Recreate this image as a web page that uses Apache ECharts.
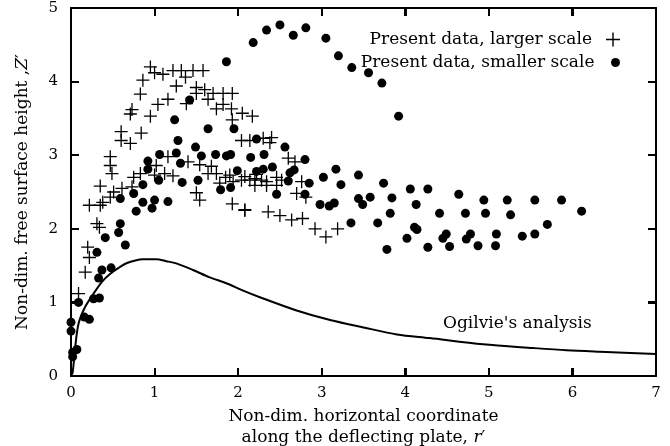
<!DOCTYPE html>
<html>
<head>
<meta charset="utf-8">
<script src="https://cdn.jsdelivr.net/npm/echarts@6/dist/echarts.min.js"></script>
<style>html,body{margin:0;padding:0;background:#fff}#c{width:670px;height:446px}#err{position:absolute;left:2px;top:2px;font:10px sans-serif;color:#c00;max-width:660px}</style>
</head>
<body>
<div id="c"></div>
<div id="err"></div>
<script>
window.onerror = function (m) { document.getElementById('err').textContent += ' ' + m; };
// ---- data ----
const xTicks = [0, 1, 2, 3, 4, 5, 6, 7];
const yTicks = [0, 1, 2, 3, 4, 5];
const seriesNames = ['Present data, larger scale', 'Present data, smaller scale'];
const curveLabel = "Ogilvie's analysis";

const largerScale = [
[0.95,4.20],[1.00,4.12],[1.10,4.10],[1.22,4.15],[1.32,4.15],[1.46,4.15],[1.58,4.15],[0.86,4.02],[1.37,4.06],[1.26,3.94],
[1.50,3.92],[1.60,3.89],[0.83,3.83],[1.50,3.84],[1.70,3.84],[1.82,3.84],[1.93,3.84],[1.16,3.76],[1.64,3.76],[1.04,3.69],
[1.82,3.69],[1.38,3.70],[0.73,3.62],[0.71,3.56],[1.74,3.63],[1.92,3.63],[2.05,3.57],[2.17,3.53],[0.95,3.53],[1.93,3.48],
[0.60,3.32],[0.84,3.30],[0.60,3.20],[0.71,3.16],[2.04,3.20],[2.14,3.20],[0.47,2.98],[1.16,2.98],[0.47,2.86],[0.49,2.75],
[1.40,2.91],[1.54,2.87],[1.68,2.85],[1.02,2.86],[0.75,2.70],[0.83,2.75],[1.00,2.73],[1.12,2.75],[1.22,2.72],[1.64,2.75],
[1.74,2.75],[1.85,2.70],[1.94,2.64],[2.04,2.66],[2.14,2.66],[2.20,2.68],[0.35,2.58],[0.51,2.50],[0.61,2.55],[0.73,2.57],
[0.47,2.43],[0.22,2.32],[0.35,2.32],[0.38,2.36],[0.31,2.07],[0.34,2.02],[0.20,1.75],[0.22,1.61],[0.17,1.41],[0.09,1.12],
[1.50,2.49],[1.54,2.39],[1.93,2.34],[2.08,2.25],[1.78,2.62],[2.30,3.23],[2.40,3.24],[2.38,3.17],[2.60,2.96],[2.68,2.91],
[1.90,2.73],[2.08,2.71],[2.22,2.74],[2.28,2.66],[2.34,2.64],[2.46,2.70],[2.52,2.66],[2.76,2.64],[2.70,2.48],[2.20,2.59],
[2.34,2.59],[2.46,2.59],[2.81,2.43],[2.08,2.26],[2.36,2.23],[2.50,2.18],[2.64,2.12],[2.77,2.14],[2.92,2.00],[3.05,1.89],
[3.19,2.00]
];

const smallerScale = [
[0.00,0.61],[0.00,0.73],[0.02,0.26],[0.02,0.32],[0.07,0.36],[0.09,1.00],[0.16,0.80],[0.22,0.77],[0.27,1.05],[0.34,1.06],
[0.33,1.33],[0.37,1.44],[0.48,1.47],[0.31,1.68],[0.41,1.88],[0.57,1.95],[0.59,2.07],[0.65,1.78],[0.59,2.41],[0.75,2.48],
[0.78,2.24],[0.86,2.36],[0.97,2.28],[1.00,2.39],[1.16,2.37],[0.86,2.60],[1.05,2.66],[1.33,2.63],[1.52,2.66],[1.79,2.53],
[1.91,2.56],[0.92,2.81],[0.92,2.92],[1.06,3.01],[1.26,3.03],[1.31,2.89],[1.56,2.99],[1.73,3.01],[1.86,2.99],[1.91,3.01],
[2.15,2.97],[1.99,2.79],[2.22,2.78],[1.49,3.11],[1.28,3.20],[2.22,3.22],[1.24,3.48],[1.64,3.36],[1.95,3.36],[1.42,3.75],
[1.86,4.27],[2.18,4.53],[2.34,4.70],[2.50,4.77],[2.66,4.63],[2.81,4.73],[3.05,4.59],[3.20,4.35],[3.36,4.19],[3.56,4.12],
[3.72,3.98],[3.92,3.53],[2.56,3.11],[2.31,3.01],[2.80,2.94],[2.30,2.81],[2.41,2.84],[2.62,2.76],[2.67,2.80],[2.60,2.65],
[2.85,2.62],[3.02,2.70],[3.17,2.81],[3.23,2.60],[3.44,2.73],[3.74,2.62],[4.06,2.54],[4.27,2.54],[4.64,2.47],[4.94,2.39],
[5.22,2.39],[5.55,2.39],[5.87,2.39],[6.11,2.24],[2.46,2.47],[2.80,2.47],[2.98,2.33],[3.09,2.31],[3.15,2.35],[3.44,2.41],
[3.49,2.33],[3.58,2.43],[3.84,2.42],[4.13,2.33],[4.41,2.21],[4.72,2.21],[4.96,2.21],[5.26,2.19],[5.70,2.06],[3.35,2.08],
[3.67,2.08],[3.82,2.21],[4.11,2.02],[4.14,1.99],[4.02,1.87],[3.78,1.72],[4.27,1.75],[4.49,1.93],[4.45,1.87],[4.53,1.76],
[4.78,1.93],[4.73,1.86],[4.87,1.77],[5.09,1.93],[5.08,1.77],[5.40,1.90],[5.55,1.93]
];

const ogilvieCurve = [
[0.00,0.00],[0.02,0.05],[0.05,0.39],[0.09,0.71],[0.17,0.94],[0.27,1.12],[0.37,1.28],[0.47,1.39],[0.57,1.47],[0.67,1.535],
[0.77,1.57],[0.86,1.585],[1.02,1.585],[1.14,1.56],[1.26,1.53],[1.46,1.44],[1.66,1.34],[1.86,1.26],[2.06,1.16],[2.26,1.07],
[2.70,0.89],[3.10,0.76],[3.50,0.66],[3.90,0.565],[4.29,0.515],[4.93,0.43],[5.53,0.38],[5.93,0.35],[6.33,0.33],[7.00,0.30]
];

// ---- chart ----
const FONT = 'DejaVu Serif';
const TICK_LEN = 8;
const GRID = {left: 71, right: 14, top: 8, bottom: 70};
const W = 670, H = 446;
const crossPath = 'path://M-0.1,-1 L0.1,-1 L0.1,-0.1 L1,-0.1 L1,0.1 L0.1,0.1 L0.1,1 L-0.1,1 L-0.1,0.1 L-1,0.1 L-1,-0.1 L-0.1,-0.1 Z';
const chart = echarts.init(document.getElementById('c'));

function axis(extra) {
  return Object.assign({
    type: 'value',
    interval: 1,
    axisLine: {show: true, onZero: false, lineStyle: {color: '#000', width: 2}},
    axisTick: {show: true, inside: true, length: TICK_LEN, lineStyle: {color: '#000', width: 2}},
    splitLine: {show: false}
  }, extra);
}

const labelGraphic = {type: 'text', left: 443, top: 315,
  style: {text: curveLabel, fontFamily: FONT, fontSize: 17, fill: '#000'}};

// Inward tick marks on the frame (thin filled rects), derived from the grid box and tick values.
const xMin = xTicks[0], xMax = xTicks[xTicks.length - 1];
const yMin = yTicks[0], yMax = yTicks[yTicks.length - 1];
const gx0 = GRID.left, gx1 = W - GRID.right, gy0 = GRID.top, gy1 = H - GRID.bottom;
const graphics = [labelGraphic];
function tickRect(x, y, w, h) {
  return {type: 'rect', z: 100, silent: true, shape: {x: x, y: y, width: w, height: h}, style: {fill: '#000'}};
}
xTicks.slice(1, -1).forEach(function (v) {
  const px = Math.round(gx0 + (v - xMin) / (xMax - xMin) * (gx1 - gx0));
  graphics.push(tickRect(px - 1, gy1 - TICK_LEN, 2, TICK_LEN));
  graphics.push(tickRect(px - 1, gy0, 2, TICK_LEN));
});
yTicks.slice(1, -1).forEach(function (v) {
  const py = Math.round(gy1 - (v - yMin) / (yMax - yMin) * (gy1 - gy0));
  graphics.push(tickRect(gx0, py - 1, TICK_LEN, 2));
  graphics.push(tickRect(gx1 - TICK_LEN, py - 1, TICK_LEN, 2));
});

try {
chart.setOption({
  grid: {left: GRID.left, right: GRID.right, top: GRID.top, bottom: GRID.bottom, outerBoundsMode: 'none'},
  legend: [
    {
      data: [{name: seriesNames[0], icon: crossPath}],
      right: 45, top: 26, align: 'right', itemWidth: 32, itemHeight: 14,
      textStyle: {fontFamily: FONT, fontSize: 17, color: '#000'},
      itemStyle: {color: '#000', opacity: 1}
    },
    {
      data: [{name: seriesNames[1], icon: 'circle'}],
      right: 45, top: 49, align: 'right', itemWidth: 32, itemHeight: 9,
      textStyle: {fontFamily: FONT, fontSize: 17, color: '#000'},
      itemStyle: {color: '#000', opacity: 1}
    }
  ],
  xAxis: [
    axis({
      min: xMin, max: xMax, position: 'bottom',
      axisLabel: {fontFamily: FONT, fontSize: 15, color: '#000', margin: 10},
      name: 'Non-dim. horizontal coordinate\nalong the deflecting plate, {i|r}\u2032',
      nameLocation: 'middle', nameGap: 26,
      nameTextStyle: {fontFamily: FONT, fontSize: 17, color: '#000', lineHeight: 21,
        rich: {i: {fontFamily: FONT, fontStyle: 'italic', fontSize: 17, color: '#000'}}}
    }),
    axis({
      min: xMin, max: xMax, position: 'top',
      axisLabel: {show: false}
    })
  ],
  yAxis: [
    axis({
      min: yMin, max: yMax, position: 'left',
      axisLabel: {fontFamily: FONT, fontSize: 15, color: '#000', margin: 13},
      name: 'Non-dim. free surface height ,{i|Z}\u2032',
      nameLocation: 'middle', nameGap: 40,
      nameTextStyle: {fontFamily: FONT, fontSize: 17, color: '#000',
        rich: {i: {fontFamily: FONT, fontStyle: 'italic', fontSize: 17, color: '#000'}}}
    }),
    axis({
      min: yMin, max: yMax, position: 'right',
      axisLabel: {show: false}
    })
  ],
  series: [
    {
      name: seriesNames[0], type: 'scatter', data: largerScale,
      symbol: crossPath, symbolSize: 13, itemStyle: {color: '#000', opacity: 1}, z: 3
    },
    {
      name: seriesNames[1], type: 'scatter', data: smallerScale,
      symbol: 'circle', symbolSize: 9, itemStyle: {color: '#000', opacity: 1}, z: 4
    },
    {
      name: curveLabel, type: 'line', data: ogilvieCurve, smooth: 0.3,
      showSymbol: false, symbol: 'none', lineStyle: {color: '#000', width: 2}, z: 2
    }
  ],
  graphic: graphics
});
} catch (e) { document.getElementById('err').textContent += ' ' + e.message; }
</script>
</body>
</html>
